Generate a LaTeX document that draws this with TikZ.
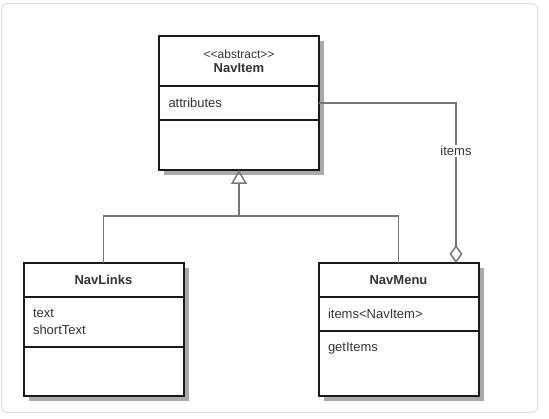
\documentclass[tikz,border=0pt]{standalone}
\usepackage{fontspec}
\setmainfont{Liberation Sans}
\usetikzlibrary{positioning,arrows.meta,backgrounds}
\definecolor{umlline}{HTML}{1A1A1A}
\definecolor{umltext}{HTML}{333333}
\definecolor{umllink}{HTML}{777777}
\definecolor{umlshadow}{HTML}{AAAAAA}
\definecolor{umlframe}{HTML}{E2E2E2}

\begin{document}
\begin{tikzpicture}[x=1pt, y=-1pt,
        classpart/.style={draw=umlline, line width=2pt, fill=white, rectangle, minimum width=160pt, outer sep=0pt, inner xsep=9.5pt, inner ysep=8pt, text=umltext, font=\fontsize{13}{17}\selectfont},
        classname/.style={classpart, align=center, font=\fontsize{13}{14}\selectfont\bfseries},
        members/.style={classpart, text width=141pt, align=left},
        relation/.style={draw=umllink, line width=1.5pt},
        shadowbox/.style={fill=umlshadow}]
        \useasboundingbox (0,0) rectangle (549,419);

        % abstract parent
        \node (navitem) [classname, minimum height=50pt] at (239,61) {{\mdseries\fontsize{12}{14}\selectfont \textless\kern0pt\textless abstract\textgreater\kern0pt\textgreater}\\NavItem};
        \node (navitemattr) [members, below=0pt of navitem, minimum height=34pt] {attributes};
        \node (navitemops) [members, below=0pt of navitemattr, minimum height=50pt] {};

        % children
        \node (navlinks) [classname, minimum height=34pt] at (103.5,280) {NavLinks};
        \node (navlinksattr) [members, below=0pt of navlinks, minimum height=50pt] {text\\shortText};
        \node (navlinksops) [members, below=0pt of navlinksattr, minimum height=49pt] {};

        \node (navmenu) [classname, minimum height=34pt] at (398.5,280) {NavMenu};
        \node (navmenuattr) [members, below=0pt of navmenu, minimum height=34pt] {items<NavItem>};
        \node (navmenuops) [members, below=0pt of navmenuattr, minimum height=65pt, text height=12.5pt, text depth=36.5pt] {getItems};

        % generalization
        \coordinate (join) at (239,216);
        \draw[relation, -{Triangle[open, width=16pt, length=14pt]}] (join) -- (navitemops.south);
        \draw[relation] (navlinks.north) |- (join) -| (navmenu.north);

        % aggregation
        \draw[relation, -{Diamond[open, width=13pt, length=18pt]}] (navitemattr.east) -| ([xshift=57.5pt]navmenu.north)
            node (itemslabel) [pos=0.65, fill=white, text=umltext, font=\fontsize{13}{15}\selectfont, inner sep=1pt] {items};

        \begin{scope}[on background layer]
            \fill[shadowbox] ([xshift=5pt, yshift=-5pt]navitem.north west) rectangle ([xshift=5pt, yshift=-5pt]navitemops.south east);
            \fill[shadowbox] ([xshift=5pt, yshift=-5pt]navlinks.north west) rectangle ([xshift=5pt, yshift=-5pt]navlinksops.south east);
            \fill[shadowbox] ([xshift=5pt, yshift=-5pt]navmenu.north west) rectangle ([xshift=5pt, yshift=-5pt]navmenuops.south east);
            \draw[umlframe, line width=1.2pt, rounded corners=6pt] (1.5,3.5) rectangle (537.5,412.5);
        \end{scope}
    \end{tikzpicture}
\end{document}
